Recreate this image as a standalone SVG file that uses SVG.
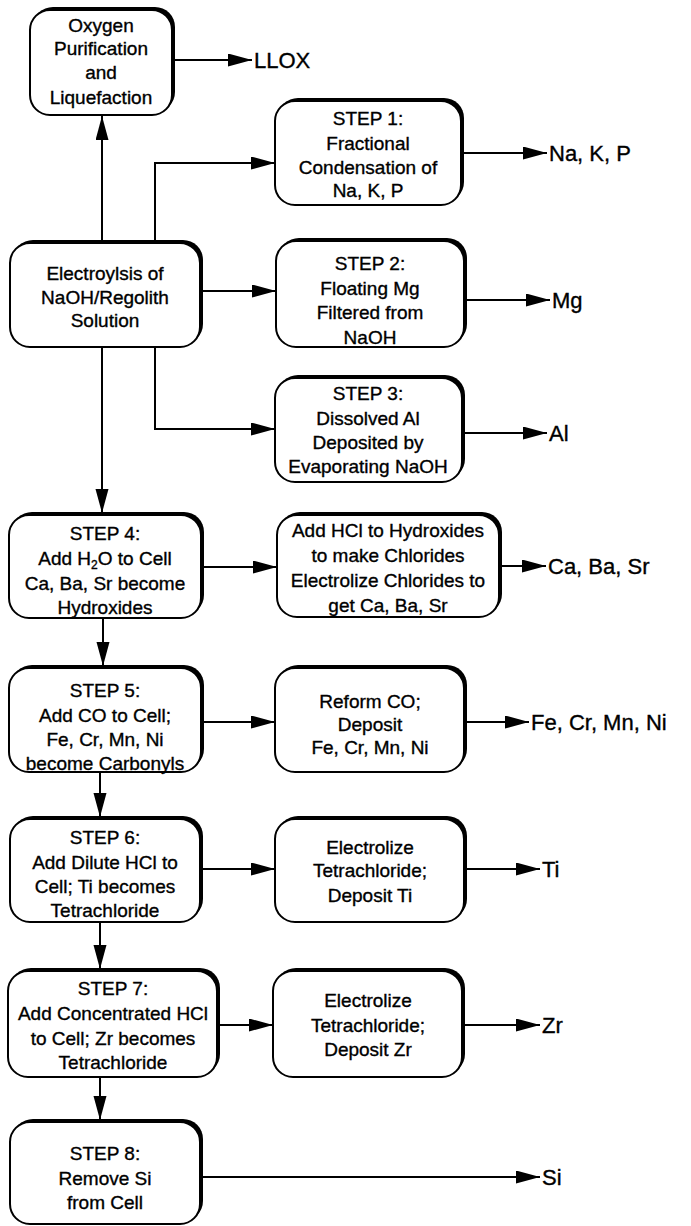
<svg xmlns="http://www.w3.org/2000/svg" width="691" height="1226" viewBox="0 0 691 1226">
  <style>
    .shadow { fill: #000; }
    .box { fill: #fff; stroke: #000; stroke-width: 2; }
    .lbl { font-family: "Liberation Sans", Arial, sans-serif; font-size: 19px; fill: #000; stroke: #000; stroke-width: 0.35; text-anchor: middle; }
    .out { font-family: "Liberation Sans", Arial, sans-serif; font-size: 22px; fill: #000; stroke: #000; stroke-width: 0.35; }
    .wire { fill: none; stroke: #000; stroke-width: 2; marker-end: url(#head); }
  </style>
  <defs>
    <marker id="head" markerUnits="userSpaceOnUse" markerWidth="25" markerHeight="14" refX="24" refY="6.5" orient="auto">
      <path d="M0,0 L24,6.5 L0,13 Z" fill="#000"/>
    </marker>
  </defs>
  <rect width="691" height="1226" fill="#fff"/>

  <!-- connectors -->
  <g id="connectors">
    <path class="wire" d="M102,243 V116"/>
    <path class="wire" d="M172,60 H252"/>
    <path class="wire" d="M155,243 V163 H275"/>
    <path class="wire" d="M461,153 H547"/>
    <path class="wire" d="M200,291 H276"/>
    <path class="wire" d="M464,300 H550"/>
    <path class="wire" d="M155,347 V429 H275"/>
    <path class="wire" d="M462,433 H547"/>
    <path class="wire" d="M102,347 V513"/>
    <path class="wire" d="M201,567 H277"/>
    <path class="wire" d="M499,566 H546"/>
    <path class="wire" d="M103,618 V666"/>
    <path class="wire" d="M201,722 H275"/>
    <path class="wire" d="M464,722 H529"/>
    <path class="wire" d="M100,772 V817"/>
    <path class="wire" d="M200,869 H275"/>
    <path class="wire" d="M464,869 H540"/>
    <path class="wire" d="M100,922 V969"/>
    <path class="wire" d="M217,1025 H273"/>
    <path class="wire" d="M462,1025 H540"/>
    <path class="wire" d="M100,1077 V1120"/>
    <path class="wire" d="M200,1177 H540"/>
  </g>

  <!-- output labels -->
  <g id="outputs">
    <text class="out" x="254" y="68">LLOX</text>
    <text class="out" x="549" y="161">Na, K, P</text>
    <text class="out" x="552" y="308">Mg</text>
    <text class="out" x="549" y="441">Al</text>
    <text class="out" x="548" y="574">Ca, Ba, Sr</text>
    <text class="out" x="531" y="730">Fe, Cr, Mn, Ni</text>
    <text class="out" x="542" y="877">Ti</text>
    <text class="out" x="542" y="1033">Zr</text>
    <text class="out" x="542" y="1185">Si</text>
  </g>

  <g id="oxygen">
    <rect class="shadow" x="33" y="7" width="142" height="105" rx="20"/>
    <rect class="box" x="30" y="10" width="142" height="105" rx="20"/>
    <text class="lbl" x="101" y="32">Oxygen</text>
    <text class="lbl" x="101" y="55">Purification</text>
    <text class="lbl" x="101" y="79">and</text>
    <text class="lbl" x="101" y="104">Liquefaction</text>
  </g>

  <g id="step1">
    <rect class="shadow" x="278" y="98" width="186" height="104" rx="20"/>
    <rect class="box" x="275" y="101" width="186" height="104" rx="20"/>
    <text class="lbl" x="368" y="125">STEP 1:</text>
    <text class="lbl" x="368" y="150">Fractional</text>
    <text class="lbl" x="368" y="174">Condensation of</text>
    <text class="lbl" x="368" y="197">Na, K, P</text>
  </g>

  <g id="electrolysis">
    <rect class="shadow" x="13" y="240" width="190" height="104" rx="20"/>
    <rect class="box" x="10" y="243" width="190" height="104" rx="20"/>
    <text class="lbl" x="105" y="280">Electroylsis of</text>
    <text class="lbl" x="105" y="304">NaOH/Regolith</text>
    <text class="lbl" x="105" y="327">Solution</text>
  </g>

  <g id="step2">
    <rect class="shadow" x="279" y="238" width="188" height="106" rx="20"/>
    <rect class="box" x="276" y="241" width="188" height="106" rx="20"/>
    <text class="lbl" x="370" y="270">STEP 2:</text>
    <text class="lbl" x="370" y="295">Floating Mg</text>
    <text class="lbl" x="370" y="319">Filtered from</text>
    <text class="lbl" x="370" y="344">NaOH</text>
  </g>

  <g id="step3">
    <rect class="shadow" x="278" y="375" width="187" height="104" rx="20"/>
    <rect class="box" x="275" y="378" width="187" height="104" rx="20"/>
    <text class="lbl" x="368" y="400">STEP 3:</text>
    <text class="lbl" x="368" y="425">Dissolved Al</text>
    <text class="lbl" x="368" y="449">Deposited by</text>
    <text class="lbl" x="368" y="473">Evaporating NaOH</text>
  </g>

  <g id="step4">
    <rect class="shadow" x="12" y="512" width="192" height="103" rx="20"/>
    <rect class="box" x="9" y="515" width="192" height="103" rx="20"/>
    <text class="lbl" x="105" y="540">STEP 4:</text>
    <text class="lbl" x="105" y="565">Add H<tspan font-size="12" dy="4">2</tspan><tspan dy="-4">O to Cell</tspan></text>
    <text class="lbl" x="105" y="590">Ca, Ba, Sr become</text>
    <text class="lbl" x="105" y="614">Hydroxides</text>
  </g>

  <g id="chlorides">
    <rect class="shadow" x="280" y="512" width="222" height="102" rx="20"/>
    <rect class="box" x="277" y="515" width="222" height="102" rx="20"/>
    <text class="lbl" x="388" y="537">Add HCl to Hydroxides</text>
    <text class="lbl" x="388" y="562">to make Chlorides</text>
    <text class="lbl" x="388" y="587">Electrolize Chlorides to</text>
    <text class="lbl" x="388" y="612">get Ca, Ba, Sr</text>
  </g>

  <g id="step5">
    <rect class="shadow" x="12" y="665" width="192" height="104" rx="20"/>
    <rect class="box" x="9" y="668" width="192" height="104" rx="20"/>
    <text class="lbl" x="105" y="697">STEP 5:</text>
    <text class="lbl" x="105" y="722">Add CO to Cell;</text>
    <text class="lbl" x="105" y="746">Fe, Cr, Mn, Ni</text>
    <text class="lbl" x="105" y="770">become Carbonyls</text>
  </g>

  <g id="carbonyl-deposit">
    <rect class="shadow" x="278" y="665" width="189" height="104" rx="20"/>
    <rect class="box" x="275" y="668" width="189" height="104" rx="20"/>
    <text class="lbl" x="370" y="708">Reform CO;</text>
    <text class="lbl" x="370" y="731">Deposit</text>
    <text class="lbl" x="370" y="754">Fe, Cr, Mn, Ni</text>
  </g>

  <g id="step6">
    <rect class="shadow" x="13" y="816" width="190" height="103" rx="20"/>
    <rect class="box" x="10" y="819" width="190" height="103" rx="20"/>
    <text class="lbl" x="105" y="844">STEP 6:</text>
    <text class="lbl" x="105" y="869">Add Dilute HCl to</text>
    <text class="lbl" x="105" y="893">Cell; Ti becomes</text>
    <text class="lbl" x="105" y="917">Tetrachloride</text>
  </g>

  <g id="titanium-deposit">
    <rect class="shadow" x="278" y="816" width="189" height="103" rx="20"/>
    <rect class="box" x="275" y="819" width="189" height="103" rx="20"/>
    <text class="lbl" x="370" y="854">Electrolize</text>
    <text class="lbl" x="370" y="877">Tetrachloride;</text>
    <text class="lbl" x="370" y="902">Deposit Ti</text>
  </g>

  <g id="step7">
    <rect class="shadow" x="11" y="968" width="209" height="106" rx="20"/>
    <rect class="box" x="8" y="971" width="209" height="106" rx="20"/>
    <text class="lbl" x="113" y="995">STEP 7:</text>
    <text class="lbl" x="113" y="1020">Add Concentrated HCl</text>
    <text class="lbl" x="113" y="1045">to Cell; Zr becomes</text>
    <text class="lbl" x="113" y="1069">Tetrachloride</text>
  </g>

  <g id="zirconium-deposit">
    <rect class="shadow" x="276" y="968" width="189" height="106" rx="20"/>
    <rect class="box" x="273" y="971" width="189" height="106" rx="20"/>
    <text class="lbl" x="368" y="1007">Electrolize</text>
    <text class="lbl" x="368" y="1032">Tetrachloride;</text>
    <text class="lbl" x="368" y="1056">Deposit Zr</text>
  </g>

  <g id="step8">
    <rect class="shadow" x="13" y="1119" width="190" height="102" rx="20"/>
    <rect class="box" x="10" y="1122" width="190" height="102" rx="20"/>
    <text class="lbl" x="105" y="1160">STEP 8:</text>
    <text class="lbl" x="105" y="1185">Remove Si</text>
    <text class="lbl" x="105" y="1209">from Cell</text>
  </g>
</svg>
